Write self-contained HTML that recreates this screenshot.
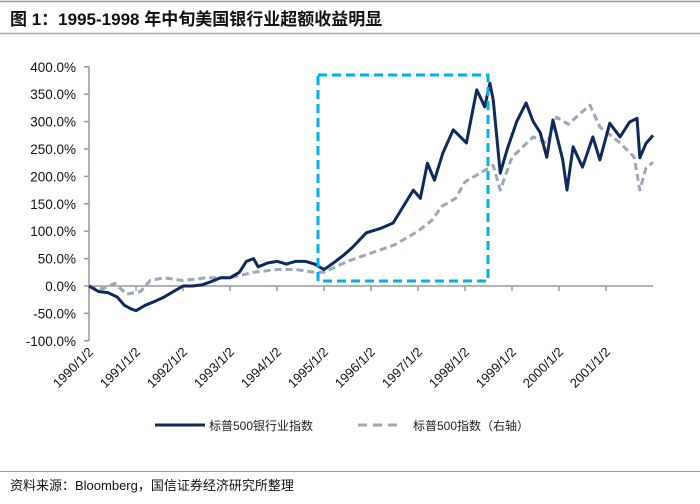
<!DOCTYPE html>
<html><head><meta charset="utf-8"><style>
body{margin:0;background:#fff;width:700px;height:499px;overflow:hidden;font-family:"Liberation Sans","Noto Sans CJK SC",sans-serif;}
</style></head><body>
<svg width="700" height="499" xmlns="http://www.w3.org/2000/svg">
<line x1="0" y1="1.5" x2="700" y2="1.5" stroke="#999" stroke-width="1.5"/>
<text x="10" y="25" font-size="17" font-weight="bold" fill="#111" font-family="Liberation Sans,Noto Sans CJK SC,sans-serif">图 1：1995-1998 年中旬美国银行业超额收益明显</text>
<line x1="0" y1="33.5" x2="700" y2="33.5" stroke="#aaa" stroke-width="1.5"/>
<g id="axes"></g>
<g id="plot"></g>
<rect x="318" y="75" width="170" height="206" fill="none" stroke="#00b0f0" stroke-width="3" stroke-dasharray="9,5"/>
<g>
<line x1="155" y1="425" x2="205" y2="425" stroke="#0d2a5a" stroke-width="3"/>
<text x="209" y="430" font-size="12" fill="#222">标普500银行业指数</text>
<line x1="358" y1="425" x2="402" y2="425" stroke="#9aa8b8" stroke-width="3" stroke-dasharray="9,6"/>
<text x="413" y="430" font-size="12" fill="#222">标普500指数（右轴）</text>
</g>
<line x1="0" y1="471.5" x2="700" y2="471.5" stroke="#999" stroke-width="1"/>
<text x="10" y="490" font-size="13" fill="#111">资料来源：Bloomberg，国信证券经济研究所整理</text>
</svg>
<script>
const yTicks=[400,350,300,250,200,150,100,50,0,-50,-100];
const xYears=[1990,1991,1992,1993,1994,1995,1996,1997,1998,1999,2000,2001];
const bankT=[1990.0,1990.2,1990.4,1990.6,1990.75,1990.9,1991.0,1991.2,1991.4,1991.6,1991.8,1992.0,1992.2,1992.4,1992.6,1992.8,1993.0,1993.2,1993.35,1993.5,1993.6,1993.8,1994.0,1994.2,1994.4,1994.6,1994.8,1995.0,1995.2,1995.4,1995.6,1995.9,1996.2,1996.47,1996.6,1996.9,1997.05,1997.2,1997.35,1997.53,1997.75,1998.03,1998.25,1998.42,1998.53,1998.6,1998.75,1998.9,1999.1,1999.3,1999.45,1999.6,1999.74,1999.87,2000.08,2000.17,2000.3,2000.5,2000.72,2000.87,2001.08,2001.3,2001.5,2001.66,2001.72,2001.85,2002.0];
const bankV=[0,-10,-12,-20,-35,-42,-45,-35,-28,-20,-10,0,0,2,8,15,15,25,45,50,35,42,45,40,45,45,40,30,42,55,70,97,105,115,133,175,160,224,193,243,285,261,358,327,370,340,206,250,300,334,300,280,235,303,230,175,254,217,272,230,297,272,299,306,234,260,275];
const spT=[1990.0,1990.3,1990.55,1990.8,1991.1,1991.3,1991.6,1992.0,1992.5,1993.0,1993.5,1994.0,1994.4,1994.8,1995.0,1995.5,1996.0,1996.5,1997.0,1997.3,1997.5,1997.8,1998.0,1998.3,1998.6,1998.75,1999.0,1999.45,1999.75,1999.95,2000.2,2000.45,2000.66,2000.87,2001.1,2001.3,2001.6,2001.72,2001.85,2002.0];
const spV=[0,-5,5,-15,-10,10,15,10,15,15,25,30,30,25,25,45,60,75,100,120,145,160,190,205,220,175,235,272,261,308,295,315,330,290,275,261,235,175,215,226];
const X0=89,PX=47,Y0=286,PY=27.4/50;
const xs=t=>X0+(t-1990)*PX, ys=v=>Y0-v*PY;
const NS="http://www.w3.org/2000/svg";
const ax=document.getElementById('axes'),pl=document.getElementById('plot');
function mk(tag,attrs,parent){const e=document.createElementNS(NS,tag);for(const k in attrs)e.setAttribute(k,attrs[k]);parent.appendChild(e);return e;}
let a=mk('line',{x1:X0,y1:ys(400),x2:X0,y2:ys(-100),stroke:'#999','stroke-width':1.5},ax);


yTicks.forEach(v=>{
 const l=mk('line',{x1:X0-5,y1:ys(v),x2:X0,y2:ys(v),stroke:'#999','stroke-width':1.5},ax);
 
 
 const t=mk('text',{x:X0-13,y:ys(v)+5,'text-anchor':'end','font-size':13.5,fill:'#111'},ax);
 t.textContent=v.toFixed(1)+'%';
 
 
});
a=mk('line',{x1:X0,y1:Y0,x2:653,y2:Y0,stroke:'#999','stroke-width':1.5},ax);


const LY=ys(-100)+12;
xYears.forEach(y=>{
 const x=xs(y);
 const l=mk('line',{x1:x,y1:Y0,x2:x,y2:Y0+5,stroke:'#999','stroke-width':1.5},ax);
 
 
 const t=mk('text',{x:x+5,y:LY,'text-anchor':'end','font-size':13,fill:'#111',transform:`rotate(-45 ${x+5} ${LY})`},ax);
 t.textContent=y+'/1/2';
 
 
});
let p=mk('polyline',{points:spT.map((t,i)=>xs(t)+','+ys(spV[i])).join(' '),fill:'none',stroke:'#9aa8b8','stroke-width':3,'stroke-dasharray':'7,4','stroke-linejoin':'round'},pl);


p=mk('polyline',{points:bankT.map((t,i)=>xs(t)+','+ys(bankV[i])).join(' '),fill:'none',stroke:'#0d2a5a','stroke-width':3,'stroke-linejoin':'round'},pl);


</script>
</body></html>
